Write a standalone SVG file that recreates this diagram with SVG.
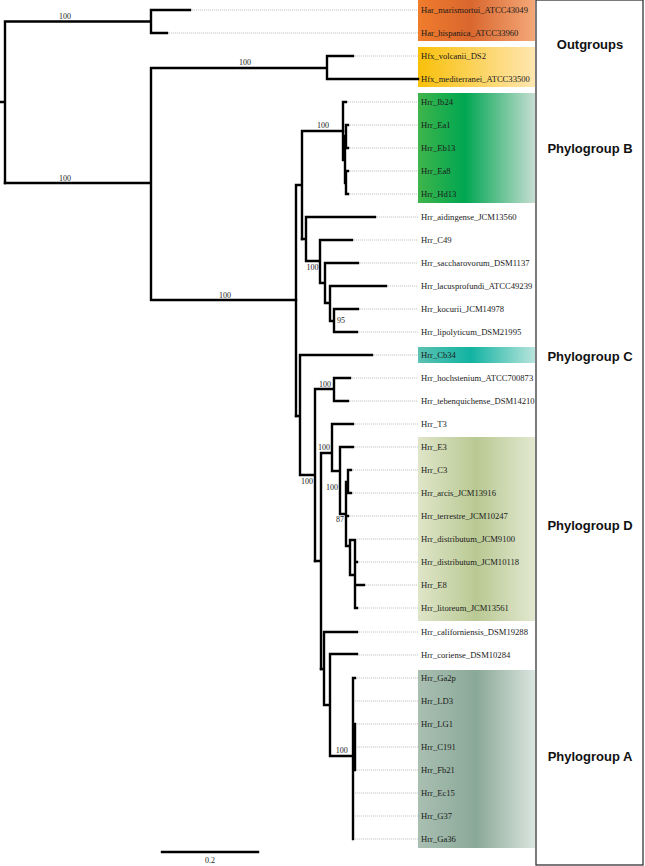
<svg xmlns="http://www.w3.org/2000/svg" width="645" height="866" viewBox="0 0 645 866">
<style>
.br{fill:none;stroke:#000;stroke-width:2.4;stroke-linecap:square}
.dt{fill:none;stroke:#b5b5b5;stroke-width:0.8;stroke-dasharray:1.2,0.8}
.tl{font-family:"Liberation Serif","Times New Roman",serif;font-size:8.6px;fill:#1a1a1a}
.bs{font-family:"Liberation Serif","Times New Roman",serif;font-size:8px;fill:#222;text-anchor:middle}
.gl{font-family:"Liberation Sans",Arial,sans-serif;font-size:13px;font-weight:bold;fill:#111;text-anchor:middle}
</style>
<defs>
<linearGradient id="gOr" x1="0" x2="1" y1="0" y2="0"><stop offset="0" stop-color="#f07c2c"/><stop offset="0.45" stop-color="#d9672e"/><stop offset="1" stop-color="#f4a878"/></linearGradient>
<linearGradient id="gYe" x1="0" x2="1" y1="0" y2="0"><stop offset="0" stop-color="#f9c00a"/><stop offset="0.5" stop-color="#fcd35e"/><stop offset="1" stop-color="#fee6b0"/></linearGradient>
<linearGradient id="gGr" x1="0" x2="1" y1="0" y2="0"><stop offset="0" stop-color="#3fb54b"/><stop offset="0.4" stop-color="#00a651"/><stop offset="1" stop-color="#c6ddd2"/></linearGradient>
<linearGradient id="gTe" x1="0" x2="1" y1="0" y2="0"><stop offset="0" stop-color="#5cc2b2"/><stop offset="0.45" stop-color="#12b3a2"/><stop offset="1" stop-color="#b8e4dc"/></linearGradient>
<linearGradient id="gOl" x1="0" x2="1" y1="0" y2="0"><stop offset="0" stop-color="#dfe5c8"/><stop offset="0.5" stop-color="#b9c993"/><stop offset="1" stop-color="#e2e8d0"/></linearGradient>
<linearGradient id="gGy" x1="0" x2="1" y1="0" y2="0"><stop offset="0" stop-color="#a9bfb2"/><stop offset="0.5" stop-color="#8aa897"/><stop offset="1" stop-color="#dae5df"/></linearGradient>
</defs>
<rect width="645" height="866" fill="#fff"/>

<g id="panel">
<rect x="536" y="0" width="107" height="865" fill="#fff" stroke="#333" stroke-width="1.3"/>
</g>

<g id="boxes">
<rect id="box-outgroup-har" x="418" y="0" width="117" height="41" fill="url(#gOr)"/>
<rect id="box-outgroup-hfx" x="418" y="47" width="117" height="40" fill="url(#gYe)"/>
<rect id="box-B" x="418" y="93" width="117" height="110" fill="url(#gGr)"/>
<rect id="box-C" x="418" y="347" width="117" height="16" fill="url(#gTe)"/>
<rect id="box-D" x="418" y="437" width="117" height="184" fill="url(#gOl)"/>
<rect id="box-A" x="418" y="670" width="117" height="178" fill="url(#gGy)"/>
</g>

<g id="leaders">
<path class="dt" d="M190,10H418M167,33H418M353,56H418M346,102H418M348,125H418M348,148H418M348,171H418M348,194H418M375,217H418M352,240H418M358,263H418M386,286H418M358,309H418M357,332H418M372,355H418M350,378H418M348,401H418M353,424H418M353,447H418M351,470H418M351,493H418M348,516H418M357,539H418M357,562H418M364,585H418M357,608H418M357,632H418M357,655H418M355,678H418M355,701H418M355,724H418M355,747H418M355,770H418M355,793H418M355,816H418M355,839H418"/>
</g>

<g id="connectors">
<path class="br" d="M0,102H5M5,21.5V183M5,21.5H151M151,10V33M151,10H190M151,33H167"/>
<path class="br" d="M5,183H151M151,68V300M151,68H327M327,56V79M327,56H353M327,79H418M151,300H296"/>
<path class="br" d="M296,185V416M296,185H302M302,131V239M302,131H343"/>
<path class="br" d="M343,102V160M343,102H346M343,160H345M345,136V183M345,136H346M346,125V148M346,125H348M346,148H348M345,183H346M346,171V194M346,171H348M346,194H348"/>
<path class="br" d="M302,239H306M306,217V261M306,217H375M306,261H320M320,240V283M320,240H352M320,283H325M325,263V303M325,263H358M325,303H330M330,286V321M330,286H386M330,321H334M334,309V332M334,309H358M334,332H357"/>
<path class="br" d="M296,416H300M300,355V475M300,355H372M300,475H315M315,389V561M315,389H334M334,378V401M334,378H350M334,401H348"/>
<path class="br" d="M315,561H321M321,453V669M321,453H332M332,424V471M332,424H353M332,471H340M340,447V514M340,447H353M340,514H346M346,482V546M346,482H348M348,470V493M348,470H351M348,493H351M346,516H348M346,546H350M350,540V575M350,540H355M350,575H355M355,540V608M355,562H357M355,585H364M355,608H357"/>
<path class="br" d="M321,669H324M324,632V705M324,632H357M324,705H330M330,654V756M330,654H357M330,756H353M353,678V839M353,678H355M353,724V770M355,724V770"/>
<path class="br" d="M162,852H258"/>
</g>

<g id="bootstrap">
<text class="bs" x="65" y="19">100</text>
<text class="bs" x="65" y="180.5">100</text>
<text class="bs" x="245" y="65">100</text>
<text class="bs" x="225" y="297.5">100</text>
<text class="bs" x="323" y="128">100</text>
<text class="bs" x="312.5" y="270">100</text>
<text class="bs" x="341" y="323">95</text>
<text class="bs" x="325" y="387">100</text>
<text class="bs" x="324" y="450">100</text>
<text class="bs" x="307" y="484">100</text>
<text class="bs" x="332" y="490">100</text>
<text class="bs" x="340" y="522">87</text>
<text class="bs" x="341.7" y="753">100</text>
<text class="bs" x="210" y="863">0.2</text>
</g>

<g id="tips">
<text class="tl" x="421" y="13">Har_marismortui_ATCC43049</text>
<text class="tl" x="421" y="36">Har_hispanica_ATCC33960</text>
<text class="tl" x="421" y="59">Hfx_volcanii_DS2</text>
<text class="tl" x="421" y="82">Hfx_mediterranei_ATCC33500</text>
<text class="tl" x="421" y="105">Hrr_Ib24</text>
<text class="tl" x="421" y="128">Hrr_Ea1</text>
<text class="tl" x="421" y="151">Hrr_Eb13</text>
<text class="tl" x="421" y="174">Hrr_Ea8</text>
<text class="tl" x="421" y="197">Hrr_Hd13</text>
<text class="tl" x="421" y="220">Hrr_aidingense_JCM13560</text>
<text class="tl" x="421" y="243">Hrr_C49</text>
<text class="tl" x="421" y="266">Hrr_saccharovorum_DSM1137</text>
<text class="tl" x="421" y="289">Hrr_lacusprofundi_ATCC49239</text>
<text class="tl" x="421" y="312">Hrr_kocurii_JCM14978</text>
<text class="tl" x="421" y="335">Hrr_lipolyticum_DSM21995</text>
<text class="tl" x="421" y="358">Hrr_Cb34</text>
<text class="tl" x="421" y="381">Hrr_hochstenium_ATCC700873</text>
<text class="tl" x="421" y="404">Hrr_tebenquichense_DSM14210</text>
<text class="tl" x="421" y="427">Hrr_T3</text>
<text class="tl" x="421" y="450">Hrr_E3</text>
<text class="tl" x="421" y="473">Hrr_C3</text>
<text class="tl" x="421" y="496">Hrr_arcis_JCM13916</text>
<text class="tl" x="421" y="519">Hrr_terrestre_JCM10247</text>
<text class="tl" x="421" y="542">Hrr_distributum_JCM9100</text>
<text class="tl" x="421" y="565">Hrr_distributum_JCM10118</text>
<text class="tl" x="421" y="588">Hrr_E8</text>
<text class="tl" x="421" y="611">Hrr_litoreum_JCM13561</text>
<text class="tl" x="421" y="635">Hrr_californiensis_DSM19288</text>
<text class="tl" x="421" y="658">Hrr_coriense_DSM10284</text>
<text class="tl" x="421" y="681">Hrr_Ga2p</text>
<text class="tl" x="421" y="704">Hrr_LD3</text>
<text class="tl" x="421" y="727">Hrr_LG1</text>
<text class="tl" x="421" y="750">Hrr_C191</text>
<text class="tl" x="421" y="773">Hrr_Fb21</text>
<text class="tl" x="421" y="796">Hrr_Ec15</text>
<text class="tl" x="421" y="819">Hrr_G37</text>
<text class="tl" x="421" y="842">Hrr_Ga36</text>
</g>

<g id="group-labels">
<text id="lbl-outgroups" class="gl" x="590" y="49">Outgroups</text>
<text id="lbl-B" class="gl" x="590" y="152.5">Phylogroup B</text>
<text id="lbl-C" class="gl" x="590" y="360.5">Phylogroup C</text>
<text id="lbl-D" class="gl" x="590" y="530">Phylogroup D</text>
<text id="lbl-A" class="gl" x="590" y="761">Phylogroup A</text>
</g>
</svg>
